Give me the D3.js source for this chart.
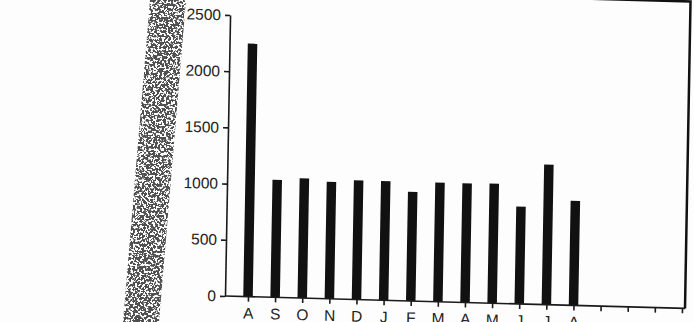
<!DOCTYPE html>
<html>
<head>
<meta charset="utf-8">
<script src="https://cdn.jsdelivr.net/npm/d3@7"></script>
<style>
  body { margin: 0; background: #fdfdfd; }
  svg { display: block; }
  .axis path, .axis line { stroke: #1a1a1a; stroke-width: 1.6px; }
  .axis text { font-family: "Liberation Sans", Arial, sans-serif; font-size: 15.5px; fill: #222; }
</style>
</head>
<body>
<svg width="694" height="322"></svg>
<script>
// categorieen (maanden), laatste vier zonder balk
var categories = ["Aug","Sep","Oct","Nov","Dec","Jan","Feb","Mar","Apr","May","Jun","Jul","Aug.2","Sep.2","Oct.2","Nov.2","Dec.2"];
var tickLabels = ["A","S","O","N","D","J","F","M","A","M","J","J","A","","","",""];
var values = [2250, 1045, 1065, 1040, 1060, 1060, 970, 1060, 1060, 1065, 865, 1245, 930];
var yTicks = [0, 500, 1000, 1500, 2000, 2500];

var svg = d3.select("svg"),
    margin = {top: 15, right: 9, bottom: 26, left: 225},
    width = +svg.attr("width"),
    height = +svg.attr("height"),
    x0 = margin.left,
    y0 = height - margin.bottom;

// scan-streep links (korrelige rand van de kopie)
var defs = svg.append("defs");
var f = defs.append("filter").attr("id", "speckle")
    .attr("x", 0).attr("y", 0).attr("width", "100%").attr("height", "100%");
f.append("feTurbulence").attr("type", "fractalNoise").attr("baseFrequency", 0.45)
    .attr("numOctaves", 3).attr("seed", 7).attr("result", "n");
f.append("feColorMatrix").attr("in", "n").attr("type", "matrix")
    .attr("values", "0 0 0 0 0.08  0 0 0 0 0.08  0 0 0 0 0.08  14 0 0 0 -6.3")
    .attr("result", "dots");
f.append("feComposite").attr("in", "dots").attr("in2", "SourceGraphic").attr("operator", "in");

svg.append("polygon")
    .attr("points", "150,0 186,0 159,322 123,322")
    .attr("fill", "#000")
    .attr("filter", "url(#speckle)");
svg.append("polygon")
    .attr("points", "158,0 178,0 150,322 130,322")
    .attr("fill", "#000")
    .attr("filter", "url(#speckle)");
svg.append("polygon")
    .attr("points", "163,0 173,0 145,322 135,322")
    .attr("fill", "#000")
    .attr("filter", "url(#speckle)");

// grafiek iets scheef, zoals op de scan
var sx = 0.027, sy = 0.018;
var g = svg.append("g")
    .attr("transform", "matrix(1," + sx + "," + (-sy) + ",1," + (sy * y0) + "," + (-sx * x0) + ")");

var x = d3.scalePoint().domain(categories).range([248, 682]);
var y = d3.scaleLinear().domain([0, 2500]).range([y0, margin.top]);

// kader rechts en boven
g.append("path")
    .attr("d", "M" + x0 + "," + (margin.top - 26) + "H" + (width - margin.right) + "V" + y0)
    .attr("fill", "none")
    .attr("stroke", "#111")
    .attr("stroke-width", 2.5);

// balken
g.selectAll(".bar")
    .data(values)
    .enter().append("rect")
      .attr("class", "bar")
      .attr("x", function(d, i) { return x(categories[i]) - 4.75; })
      .attr("y", function(d) { return y(d); })
      .attr("width", 9.5)
      .attr("height", function(d) { return y0 - y(d); })
      .attr("fill", "#111");

// x-as
g.append("g")
    .attr("class", "axis axis--x")
    .attr("transform", "translate(0," + y0 + ")")
    .call(d3.axisBottom(x).tickSize(5).tickSizeOuter(0).tickPadding(6)
      .tickFormat(function(d, i) { return tickLabels[i]; }))
    .select(".domain")
      .attr("d", "M" + x0 + ",0H" + (width - margin.right));

// y-as
g.append("g")
    .attr("class", "axis axis--y")
    .attr("transform", "translate(" + x0 + ",0)")
    .call(d3.axisLeft(y).tickValues(yTicks).tickFormat(d3.format("d"))
      .tickSize(5).tickSizeOuter(0).tickPadding(4));
</script>
</body>
</html>
